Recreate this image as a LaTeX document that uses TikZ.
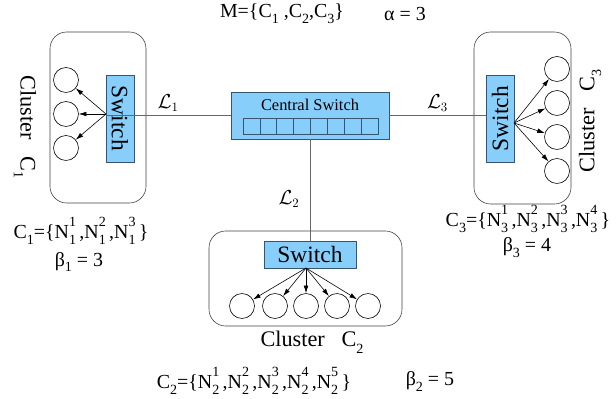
\documentclass[tikz,border=0pt]{standalone}
\usepackage{fontspec}
\setmainfont{Liberation Serif}
\usetikzlibrary{arrows.meta}
\definecolor{swfill}{RGB}{135,206,250}
\definecolor{swline}{RGB}{55,85,115}
\newcommand\scr{\fontsize{12}{12}\selectfont}
\newcommand\sub[1]{\raisebox{-0.3em}{\scr #1}}
\newcommand\nn[2]{N\rlap{\raisebox{0.6em}{\scr #1}}\raisebox{-0.3em}{\scr #2}\,}

\begin{document}
\begin{tikzpicture}[x=0.03cm,y=-0.03cm,line width=0.5pt,
  cluster/.style={draw=black!75,rounded corners=0.5cm},
  switch/.style={draw=swline,fill=swfill,inner sep=0pt,font=\fontsize{20}{22}\selectfont},
  host/.style={draw,circle,minimum size=0.75cm,inner sep=0pt},
  cell/.style={draw=swline,minimum width=0.507cm,minimum height=0.48cm,inner sep=0pt},
  link/.style={draw=black!60},
  lbl/.style={font=\fontsize{19}{21}\selectfont},
  eq/.style={font=\fontsize{17}{19}\selectfont},
  >={Latex[length=6.5pt,width=4pt]}]
 \useasboundingbox (0,0) rectangle (616,399);

 % cluster frames
 \draw[cluster] (50,32) rectangle (146,203);
 \draw[cluster] (474,32) rectangle (571,204);
 \draw[cluster] (209,231) rectangle (402,326);

 % switches
 \node[switch,minimum width=4.74cm,minimum height=1.41cm] (csw) at (310,115.5) {};
 \node[font=\fontsize{14}{16}\selectfont] (cst) at (310,105) {Central Switch};
 \foreach \i in {0,...,7}
   \node[cell] (cell\i) at (251.4+16.9*\i,126) {};
 \node[switch,minimum width=2.61cm,minimum height=0.84cm,rotate=-90] (swl) at (120,118.5) {Switch};
 \node[switch,minimum width=2.61cm,minimum height=0.84cm,rotate=90] (swr) at (500,118.5) {Switch};
 \node[switch,minimum width=2.76cm,minimum height=0.81cm] (swb) at (310,254.5) {Switch};

 % hosts
 \foreach \y [count=\i] in {80,114,148}
   \node[host] (hl\i) at (66,\y) {};
 \foreach \y [count=\i] in {69,103,137,171}
   \node[host] (hr\i) at (557,\y) {};
 \foreach \x [count=\i] in {242,275,306,337,368}
   \node[host] (hb\i) at (\x,306) {};

 % links
 \draw[link] (swl.south |- csw.west) -- (csw.west) node[midway,above,font=\fontsize{16}{18}\selectfont] {$\mathcal{L}_1$};
 \draw[link] (csw.east) -- (swr.north |- csw.east) node[midway,above,font=\fontsize{16}{18}\selectfont] {$\mathcal{L}_3$};
 \draw[link] (csw.south -| swb.north) -- (swb.north);
 \node[font=\fontsize{16}{18}\selectfont] (l2) at (289,199) {$\mathcal{L}_2$};

 % fan out
 \coordinate (ol) at (106,114);
 \coordinate (or) at (514,123);
 \coordinate (ob) at (306,268);
 \foreach \i in {1,2,3} \draw[->] (ol) -- (hl\i);
 \foreach \i in {1,...,4} \draw[->] (or) -- (hr\i);
 \foreach \i in {1,...,5} \draw[->] (ob) -- (hb\i);

 % labels
 \node[lbl,rotate=-90] (nl) at (25,127) {Cluster~~~C\sub{1}};
 \node[lbl,rotate=90] (nr) at (590,121) {Cluster~~~C\sub{3}};
 \node[lbl] (nb) at (312,342) {Cluster~~~C\sub{2}};

 \node[eq] (mset) at (282,14) {M=\{C\sub{1} ,C\sub{2},C\sub{3}\}};
 \node[eq] (alpha) at (405,14) {α = 3};
 \node[eq] (c1) at (81,231) {C\sub{1}=\{\nn11,\nn21,\nn31\}};
 \node[eq] (b1) at (79,262) {β\sub{1} = 3};
 \node[eq] (c3) at (528,219) {C\sub{3}=\{\nn13,\nn23,\nn33,\nn43\}};
 \node[eq] (b3) at (527,248) {β\sub{3} = 4};
 \node[eq] (c2) at (254,381) {C\sub{2}=\{\nn12,\nn22,\nn32,\nn42,\nn52\}};
 \node[eq] (b2) at (430,381) {β\sub{2} = 5};
\end{tikzpicture}
\end{document}
